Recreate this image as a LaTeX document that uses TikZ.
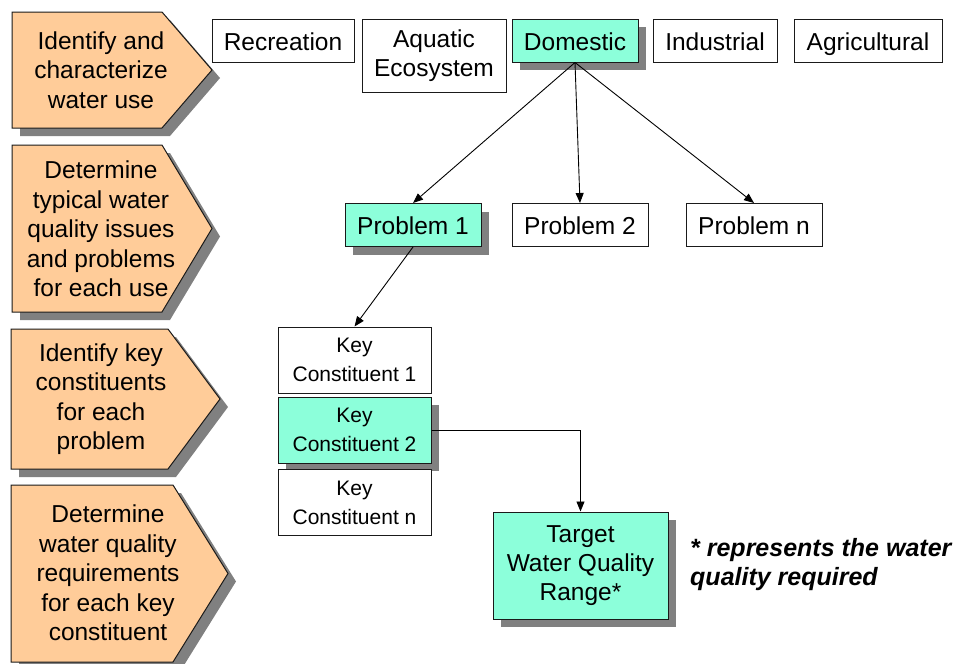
\documentclass[tikz,border=0pt]{standalone}
\usepackage{fontspec}
\setmainfont{Liberation Sans}
\usetikzlibrary{arrows.meta,shadows}
\definecolor{cStage}{HTML}{FFCC99}
\definecolor{cPick}{HTML}{8CFFDA}
\definecolor{cShade}{HTML}{808080}
\definecolor{cLine}{HTML}{1A1A1A}
\tikzset{
  dropped/.style={drop shadow={shadow xshift=8pt, shadow yshift=-8pt, fill=cShade, opacity=1}},
  stage/.style={draw=cLine, line width=1pt, fill=cStage, dropped},
  stagetxt/.style={align=center, inner sep=0pt, font=\fontsize{24.5}{29.5}\selectfont},
  box/.style={draw=cLine, line width=1pt, fill=white, align=center, inner sep=0pt,
              font=\fontsize{24.5}{29}\selectfont, minimum height=43pt},
  onerow/.style={text height=19pt, text depth=0pt},
  pick/.style={box, fill=cPick, dropped},
  keybox/.style={box, font=\fontsize{21}{29}\selectfont, minimum width=153pt, minimum height=66pt},
  link/.style={-{Triangle[length=10pt, width=8pt]}, line width=0.9pt, draw=black},
  note/.style={align=left, inner sep=0pt, font=\fontsize{25}{29}\selectfont\bfseries\itshape},
}
\begin{document}
\begin{tikzpicture}[x=1pt, y=-1pt]
  \useasboundingbox (0,0) rectangle (956,664);
  \draw[stage] (12,12) -- (162,12) -- (212,70) -- (162,128) -- (12,128) -- cycle;
  \draw[stage] (12,145) -- (162,145) -- (212,228.5) -- (162,312) -- (12,312) -- cycle;
  \draw[stage] (11,329) -- (168,329) -- (220,399) -- (168,469) -- (11,469) -- cycle;
  \draw[stage] (11,485) -- (173,485) -- (228,573.5) -- (173,662) -- (11,662) -- cycle;
  \node[stagetxt] (s1) at (101,70) {Identify and\\characterize\\water use};
  \node[stagetxt] (s2) at (101,229) {Determine\\typical water\\quality issues\\and problems\\for each use};
  \node[stagetxt] (s3) at (101,399) {Identify key\\constituents\\for each\\problem};
  \node[stagetxt] (s4) at (108,573) {Determine\\water quality\\requirements\\for each key\\constituent};

  \node[box, onerow, minimum width=142pt] (rec) at (283,40.5) {Recreation};
  \node[box, minimum width=144pt, minimum height=73pt] (aqu) at (434,55.5) {Aquatic\\Ecosystem};
  \node[pick, onerow, minimum width=126pt] (dom) at (575,40.5) {Domestic};
  \node[box, onerow, minimum width=124pt] (ind) at (715,40.5) {Industrial};
  \node[box, onerow, minimum width=148pt] (agr) at (868,40.5) {Agricultural};

  \node[pick, onerow, minimum width=136pt] (p1) at (413,225) {Problem 1};
  \node[box, onerow, minimum width=136pt] (p2) at (580,225) {Problem 2};
  \node[box, onerow, minimum width=136pt] (pn) at (754,225) {Problem n};

  \node[keybox] (kc1) at (354.5,360) {Key\\Constituent 1};
  \node[keybox, fill=cPick, dropped] (kc2) at (354.5,430) {Key\\Constituent 2};
  \node[keybox] (kcn) at (354.5,502.5) {Key\\Constituent n};

  \node[pick, minimum width=175pt, minimum height=107pt] (tgt) at (580.5,565.5) {Target\\Water Quality\\Range*};
  \node[note, anchor=west] (nt) at (690,565) {* represents the water\\quality required};

  \draw[link] (dom.south) -- (p1.north);
  \draw[link] (dom.south) -- (p2.north);
  \draw[link] (dom.south) -- (pn.north);
  \draw[link] (p1.south) -- (kc1.north);
  \draw[link] (kc2.east) -| (tgt.north);
\end{tikzpicture}
\end{document}
